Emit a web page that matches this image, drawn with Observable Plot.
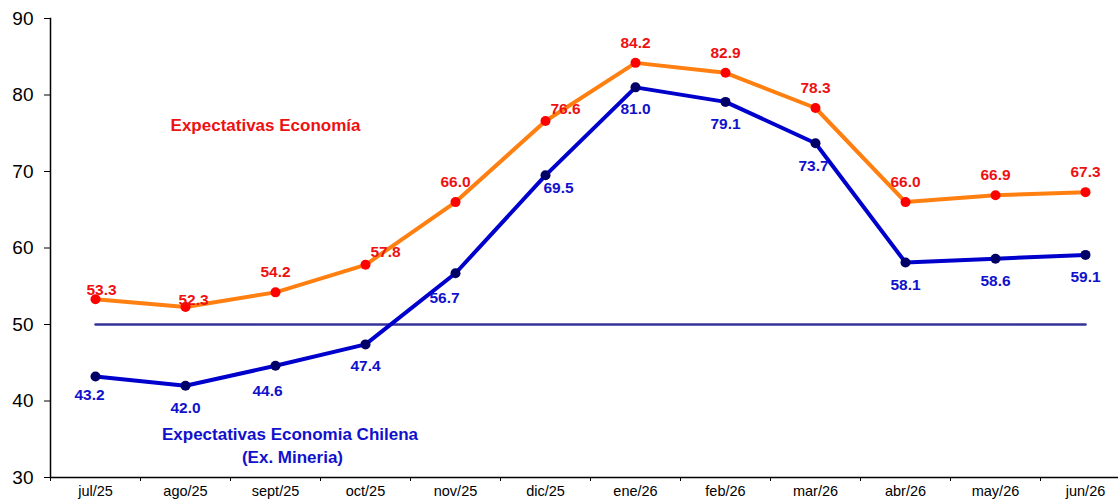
<!DOCTYPE html>
<html>
<head>
<meta charset="utf-8">
<script src="https://cdn.jsdelivr.net/npm/d3@7"></script>
<script src="https://cdn.jsdelivr.net/npm/@observablehq/plot@0.6"></script>
<style>
  html, body { margin: 0; padding: 0; background: #fff; overflow: hidden; }
  #chart svg { display: block; }
</style>
</head>
<body>
<div id="chart"></div>
<script>
const months = ["jul/25","ago/25","sept/25","oct/25","nov/25","dic/25","ene/26","feb/26","mar/26","abr/26","may/26","jun/26"];
const economia = [53.3, 52.3, 54.2, 57.8, 66.0, 76.6, 84.2, 82.9, 78.3, 66.0, 66.9, 67.3];
const chilena = [43.2, 42.0, 44.6, 47.4, 56.7, 69.5, 81.0, 79.1, 73.7, 58.1, 58.6, 59.1];
const yTicks = [30, 40, 50, 60, 70, 80, 90];
const gridTicks = [40, 50, 60, 70, 80, 90];
const neutral = 50;
const labelEconomia = "Expectativas Economía";
const labelChilena1 = "Expectativas Economia Chilena";
const labelChilena2 = "(Ex. Mineria)";

const rowsE = months.map((m, i) => ({month: m, value: economia[i]}));
const rowsC = months.map((m, i) => ({month: m, value: chilena[i]}));

const FONT = "Liberation Sans, Arial, Helvetica, sans-serif";
const RED = "#ee1111", BLUE = "#1111cc";
const LABEL_SIZE = 15.5;

// label nudges (style only): [dx, dy]
const nudgeE = {"jul/25": [6, -9], "ago/25": [8, -7], "oct/25": [20, -13], "dic/25": [20, -12]};
const nudgeC = {"jul/25": [-6, 19], "sept/25": [-8, 25], "nov/25": [-11, 25], "dic/25": [13, 13], "mar/26": [-2, 23]};

function labelMarks(rows, nudges, defDy, fill) {
  const marks = [];
  const plain = rows.filter(d => !(d.month in nudges));
  marks.push(Plot.text(plain, {x: "month", y: "value", text: d => d.value.toFixed(1), dy: defDy, fill, fontWeight: "bold", fontSize: LABEL_SIZE}));
  for (const [m, [dx, dy]] of Object.entries(nudges)) {
    marks.push(Plot.text(rows.filter(d => d.month === m), {x: "month", y: "value", text: d => d.value.toFixed(1), dx, dy, fill, fontWeight: "bold", fontSize: LABEL_SIZE}));
  }
  return marks;
}

const annot = (txt, dx, dy, fill) => Plot.text([txt], {text: d => d, frameAnchor: "top-left", textAnchor: "middle", lineAnchor: "middle", dx, dy, fill, fontWeight: "bold", fontSize: 17});

const chart = Plot.plot({
  width: 1118,
  height: 503,
  marginTop: 18,
  marginBottom: 26,
  marginLeft: 50,
  marginRight: 0,
  style: {fontFamily: FONT, background: "#fff", color: "#000"},
  x: {type: "band", domain: months, range: [50, 1130], padding: 0},
  y: {domain: [30, 90], range: [477, 18]},
  marks: [
    Plot.ruleY(gridTicks, {x1: 44, x2: 1118, stroke: "#333", strokeWidth: 1, strokeDasharray: "1,1", x: null}),
    Plot.axisY({ticks: yTicks, tickSize: 6, tickPadding: 11, fontSize: 19, label: null, stroke: "#000"}),
    Plot.axisX({tickSize: 4, dx: -45, text: null, label: null, stroke: "#000"}),
    Plot.axisX({tickSize: 0, tickPadding: 8, fontSize: 14.5, label: null}),
    Plot.ruleY([30], {stroke: "#000", strokeWidth: 1.5}),
    Plot.frame({anchor: "left", stroke: "#000", strokeWidth: 1.5}),
    Plot.line(months, {x: d => d, y: () => neutral, stroke: "#333399", strokeWidth: 2.5}),
    Plot.line(rowsE, {x: "month", y: "value", stroke: "#ff7f11", strokeWidth: 4}),
    Plot.line(rowsC, {x: "month", y: "value", stroke: "#0000cc", strokeWidth: 4}),
    Plot.dot(rowsE, {x: "month", y: "value", r: 5, fill: "#ff0000", stroke: "none"}),
    Plot.dot(rowsC, {x: "month", y: "value", r: 5, fill: "#000066", stroke: "none"}),
    ...labelMarks(rowsE, nudgeE, -20, RED),
    ...labelMarks(rowsC, nudgeC, 22, BLUE),
    annot(labelEconomia, 215, 107, RED),
    annot(labelChilena1, 239.5, 416, BLUE),
    annot(labelChilena2, 242, 439.5, BLUE)
  ]
});
document.getElementById("chart").appendChild(chart);
</script>
</body>
</html>
